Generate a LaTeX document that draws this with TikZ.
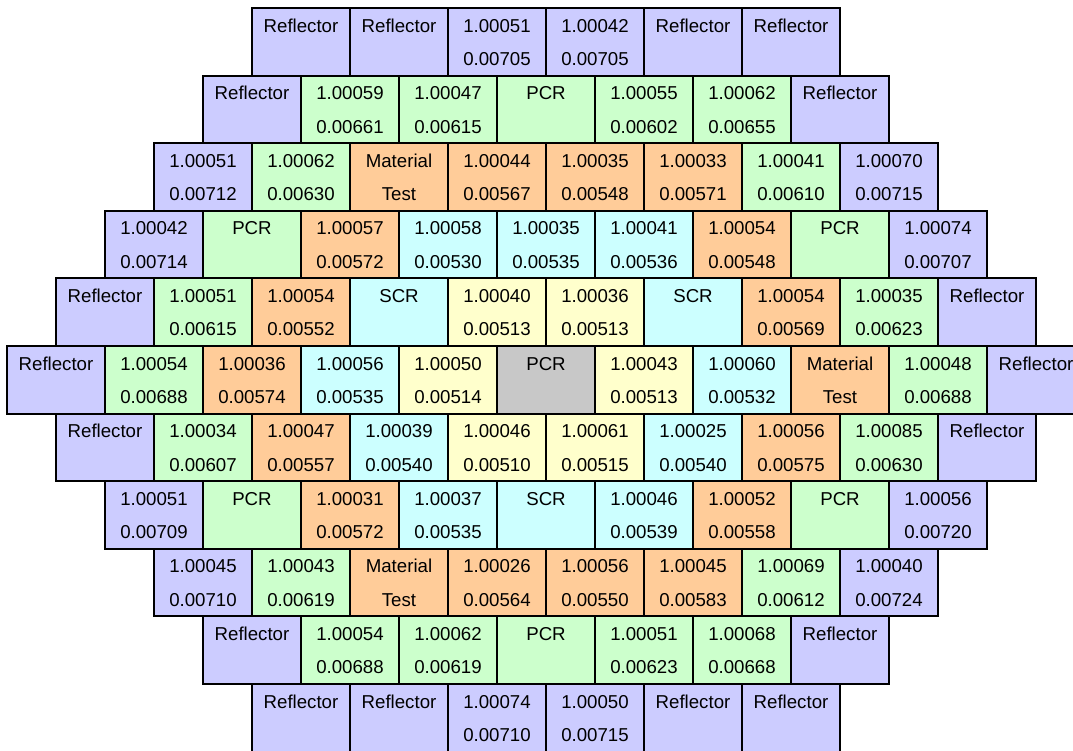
\documentclass[tikz,border=0pt]{standalone}
\usepackage{fontspec}
\setmainfont{Liberation Sans}
\usetikzlibrary{calc}

\definecolor{refl}{HTML}{CCCCFF}
\definecolor{fuel}{HTML}{CCFFCC}
\definecolor{mat}{HTML}{FFCC99}
\definecolor{inner}{HTML}{CCFFFF}
\definecolor{core}{HTML}{FFFFCC}
\definecolor{ctr}{HTML}{C8C8C8}

\begin{document}
\begin{tikzpicture}[
  x=0.75pt, y=-0.75pt,
  cell/.style ={draw, line width=1.5pt, minimum width=73.5pt, minimum height=50.7pt,
                inner sep=0pt, outer sep=0pt},
  val/.style  ={font=\fontsize{14}{16}\selectfont, anchor=base, inner sep=0pt},
]
\clip (0,0) rectangle (1073,750);

% ================= row 0 =================
\foreach \c/\t/\b [count=\i from 0] in {refl/Reflector/{}, refl/Reflector/{},
    refl/1.00051/0.00705, refl/1.00042/0.00705, refl/Reflector/{}, refl/Reflector/{}}{
  \node[cell, fill=\c] (c0-\i) at (301+98*\i, 41.8) {};
  \node[val] (a0-\i) at ($(c0-\i.north)+(0,24)$) {\t};
  \node[val] (b0-\i) at ($(c0-\i.north)+(0,57.5)$) {\b};
}

% ================= row 1 =================
\foreach \c/\t/\b [count=\i from 0] in {refl/Reflector/{}, fuel/1.00059/0.00661,
    fuel/1.00047/0.00615, fuel/PCR/{}, fuel/1.00055/0.00602, fuel/1.00062/0.00655,
    refl/Reflector/{}}{
  \node[cell, fill=\c] (c1-\i) at (252+98*\i, 109.4) {};
  \node[val] (a1-\i) at ($(c1-\i.north)+(0,24)$) {\t};
  \node[val] (b1-\i) at ($(c1-\i.north)+(0,57.5)$) {\b};
}

% ================= row 2 =================
\foreach \c/\t/\b [count=\i from 0] in {refl/1.00051/0.00712, fuel/1.00062/0.00630,
    mat/Material/Test, mat/1.00044/0.00567, mat/1.00035/0.00548, mat/1.00033/0.00571,
    fuel/1.00041/0.00610, refl/1.00070/0.00715}{
  \node[cell, fill=\c] (c2-\i) at (203+98*\i, 177) {};
  \node[val] (a2-\i) at ($(c2-\i.north)+(0,24)$) {\t};
  \node[val] (b2-\i) at ($(c2-\i.north)+(0,57.5)$) {\b};
}

% ================= row 3 =================
\foreach \c/\t/\b [count=\i from 0] in {refl/1.00042/0.00714, fuel/PCR/{},
    mat/1.00057/0.00572, inner/1.00058/0.00530, inner/1.00035/0.00535,
    inner/1.00041/0.00536, mat/1.00054/0.00548, fuel/PCR/{}, refl/1.00074/0.00707}{
  \node[cell, fill=\c] (c3-\i) at (154+98*\i, 244.6) {};
  \node[val] (a3-\i) at ($(c3-\i.north)+(0,24)$) {\t};
  \node[val] (b3-\i) at ($(c3-\i.north)+(0,57.5)$) {\b};
}

% ================= row 4 =================
\foreach \c/\t/\b [count=\i from 0] in {refl/Reflector/{}, fuel/1.00051/0.00615,
    mat/1.00054/0.00552, inner/SCR/{}, core/1.00040/0.00513, core/1.00036/0.00513,
    inner/SCR/{}, mat/1.00054/0.00569, fuel/1.00035/0.00623, refl/Reflector/{}}{
  \node[cell, fill=\c] (c4-\i) at (105+98*\i, 312.2) {};
  \node[val] (a4-\i) at ($(c4-\i.north)+(0,24)$) {\t};
  \node[val] (b4-\i) at ($(c4-\i.north)+(0,57.5)$) {\b};
}

% ================= row 5: centre row =================
\foreach \c/\t/\b [count=\i from 0] in {refl/Reflector/{}, fuel/1.00054/0.00688,
    mat/1.00036/0.00574, inner/1.00056/0.00535, core/1.00050/0.00514, ctr/PCR/{},
    core/1.00043/0.00513, inner/1.00060/0.00532, mat/Material/Test,
    fuel/1.00048/0.00688, refl/Reflector/{}}{
  \node[cell, fill=\c] (c5-\i) at (56+98*\i, 379.8) {};
  \node[val] (a5-\i) at ($(c5-\i.north)+(0,24)$) {\t};
  \node[val] (b5-\i) at ($(c5-\i.north)+(0,57.5)$) {\b};
}

% ================= row 6 =================
\foreach \c/\t/\b [count=\i from 0] in {refl/Reflector/{}, fuel/1.00034/0.00607,
    mat/1.00047/0.00557, inner/1.00039/0.00540, core/1.00046/0.00510,
    core/1.00061/0.00515, inner/1.00025/0.00540, mat/1.00056/0.00575,
    fuel/1.00085/0.00630, refl/Reflector/{}}{
  \node[cell, fill=\c] (c6-\i) at (105+98*\i, 447.4) {};
  \node[val] (a6-\i) at ($(c6-\i.north)+(0,24)$) {\t};
  \node[val] (b6-\i) at ($(c6-\i.north)+(0,57.5)$) {\b};
}

% ================= row 7 =================
\foreach \c/\t/\b [count=\i from 0] in {refl/1.00051/0.00709, fuel/PCR/{},
    mat/1.00031/0.00572, inner/1.00037/0.00535, inner/SCR/{}, inner/1.00046/0.00539,
    mat/1.00052/0.00558, fuel/PCR/{}, refl/1.00056/0.00720}{
  \node[cell, fill=\c] (c7-\i) at (154+98*\i, 515) {};
  \node[val] (a7-\i) at ($(c7-\i.north)+(0,24)$) {\t};
  \node[val] (b7-\i) at ($(c7-\i.north)+(0,57.5)$) {\b};
}

% ================= row 8 =================
\foreach \c/\t/\b [count=\i from 0] in {refl/1.00045/0.00710, fuel/1.00043/0.00619,
    mat/Material/Test, mat/1.00026/0.00564, mat/1.00056/0.00550, mat/1.00045/0.00583,
    fuel/1.00069/0.00612, refl/1.00040/0.00724}{
  \node[cell, fill=\c] (c8-\i) at (203+98*\i, 582.6) {};
  \node[val] (a8-\i) at ($(c8-\i.north)+(0,24)$) {\t};
  \node[val] (b8-\i) at ($(c8-\i.north)+(0,57.5)$) {\b};
}

% ================= row 9 =================
\foreach \c/\t/\b [count=\i from 0] in {refl/Reflector/{}, fuel/1.00054/0.00688,
    fuel/1.00062/0.00619, fuel/PCR/{}, fuel/1.00051/0.00623, fuel/1.00068/0.00668,
    refl/Reflector/{}}{
  \node[cell, fill=\c] (c9-\i) at (252+98*\i, 650.2) {};
  \node[val] (a9-\i) at ($(c9-\i.north)+(0,24)$) {\t};
  \node[val] (b9-\i) at ($(c9-\i.north)+(0,57.5)$) {\b};
}

% ================= row 10 =================
\foreach \c/\t/\b [count=\i from 0] in {refl/Reflector/{}, refl/Reflector/{},
    refl/1.00074/0.00710, refl/1.00050/0.00715, refl/Reflector/{}, refl/Reflector/{}}{
  \node[cell, fill=\c] (c10-\i) at (301+98*\i, 717.8) {};
  \node[val] (a10-\i) at ($(c10-\i.north)+(0,24)$) {\t};
  \node[val] (b10-\i) at ($(c10-\i.north)+(0,57.5)$) {\b};
}

\end{tikzpicture}
\end{document}
